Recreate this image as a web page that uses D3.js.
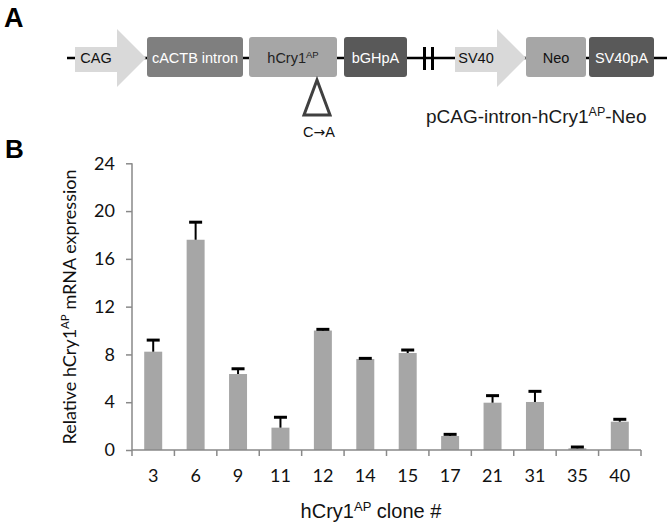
<!DOCTYPE html>
<html>
<head>
<meta charset="utf-8">
<script src="https://cdn.jsdelivr.net/npm/d3@7"></script>
<style>
  body { margin: 0; background: #fff; }
  svg { display: block; }
  .arial { font-family: "Liberation Sans", Arial, sans-serif; }
  .calib { font-family: Lato, "Open Sans", sans-serif; }
</style>
</head>
<body>
<div id="fig"></div>
<script>
// clone numbers and measured expression (mean, upper error)
var clones = ["3", "6", "9", "11", "12", "14", "15", "17", "21", "31", "35", "40"];
var expression = [8.23, 17.6, 6.36, 1.87, 10.0, 7.62, 8.12, 1.17, 3.96, 4.02, 0.14, 2.37];
var errorTop = [9.2, 19.07, 6.8, 2.74, 10.1, 7.67, 8.37, 1.31, 4.55, 4.91, 0.25, 2.57];
var yTicks = [0, 4, 8, 12, 16, 20, 24];

// construct elements (panel A)
var parts = ["CAG", "cACTB intron", "hCry1", "bGHpA", "SV40", "Neo", "SV40pA"];

var svgWidth = 672;
var svgHeight = 528;

var svg = d3.select("#fig")
  .append("svg")
  .attr("width", svgWidth)
  .attr("height", svgHeight);

// panel letters
svg.append("text").attr("class", "arial")
  .attr("x", 4).attr("y", 27)
  .style("font-size", "27px").style("font-weight", "bold")
  .text("A");
svg.append("text").attr("class", "arial")
  .attr("x", 5).attr("y", 158)
  .style("font-size", "26px").style("font-weight", "bold")
  .text("B");

// ---- panel A : plasmid map ----
var mapG = svg.append("g");
var lineY = 58;

mapG.append("line")
  .attr("x1", 67).attr("x2", 667)
  .attr("y1", lineY).attr("y2", lineY)
  .attr("stroke", "#000").attr("stroke-width", 2.5);

// element geometry: [x0, x1, kind, fill, text colour]
var layout = [
  [75, 146, "arrow", "#d9d9d9", "#111"],
  [147, 243, "box", "#7f7f7f", "#fff"],
  [249, 337, "box", "#a6a6a6", "#222"],
  [344, 407, "box", "#595959", "#fff"],
  [455, 526, "arrow", "#d9d9d9", "#111"],
  [526, 586, "box", "#a6a6a6", "#111"],
  [589, 654, "box", "#595959", "#fff"]
];

parts.forEach(function(name, i) {
  var L = layout[i];
  if (L[2] === "arrow") {
    var headX = L[1] - 29;
    var pts = [[L[0], 47], [headX, 47], [headX, 29], [L[1], lineY],
               [headX, 87], [headX, 72], [L[0], 72]];
    mapG.append("polygon")
      .attr("points", pts.map(p => p.join(",")).join(" "))
      .attr("fill", L[3]);
  } else {
    mapG.append("rect")
      .attr("x", L[0]).attr("y", 37)
      .attr("width", L[1] - L[0]).attr("height", 40)
      .attr("rx", 3)
      .attr("fill", L[3]);
  }
  var cx = L[2] === "arrow" ? (L[0] + L[1] - 29) / 2 : (L[0] + L[1]) / 2;
  var t = mapG.append("text").attr("class", "arial")
    .attr("x", cx).attr("y", 62.5)
    .attr("text-anchor", "middle")
    .attr("fill", L[4])
    .style("font-size", "14.5px")
    .text(name);
  if (name === "hCry1") {
    t.append("tspan").attr("dy", -5).style("font-size", "9.5px").text("AP");
  }
});

// break mark
[423, 431].forEach(function(bx) {
  mapG.append("rect")
    .attr("x", bx).attr("y", 47)
    .attr("width", 3).attr("height", 23)
    .attr("fill", "#000");
});

// mutation triangle
mapG.append("polygon")
  .attr("points", "317,80 304,115 330,115")
  .attr("fill", "#fff")
  .attr("stroke", "#404040")
  .attr("stroke-width", 3)
  .attr("stroke-linejoin", "miter");
var mut = mapG.append("text").attr("class", "arial")
  .attr("x", 319).attr("y", 137)
  .attr("text-anchor", "middle")
  .style("font-size", "14.5px")
  .attr("fill", "#111")
  .text("C");
mut.append("tspan").style("font-family", "DejaVu Sans").style("font-size", "14px").text("\u2192");
mut.append("tspan").text("A");

var title = mapG.append("text").attr("class", "arial")
  .attr("x", 426).attr("y", 123)
  .style("font-size", "19px")
  .attr("fill", "#1a1a1a")
  .text("pCAG-intron-hCry1");
title.append("tspan").attr("dy", -7).style("font-size", "12.5px").text("AP");
title.append("tspan").attr("dy", 7).text("-Neo");

// ---- panel B : bar chart ----
var chart = { left: 132, right: 641, top: 163.3, bottom: 450 };

var xScale = d3.scaleBand()
  .domain(clones)
  .range([chart.left, chart.right])
  .paddingInner(0.576)
  .paddingOuter(0.288);

var yScale = d3.scaleLinear()
  .domain([0, 24])
  .range([chart.bottom, chart.top]);

var axisColor = "#898989";

// bars
svg.append("g").selectAll("rect")
  .data(clones)
  .enter()
  .append("rect")
  .attr("x", d => xScale(d))
  .attr("width", xScale.bandwidth())
  .attr("y", (d, i) => yScale(expression[i]))
  .attr("height", (d, i) => chart.bottom - yScale(expression[i]))
  .attr("fill", "#a6a6a6");

// error bars
var errG = svg.append("g");
clones.forEach(function(c, i) {
  var cx = xScale(c) + xScale.bandwidth() / 2;
  errG.append("line")
    .attr("x1", cx).attr("x2", cx)
    .attr("y1", yScale(expression[i])).attr("y2", yScale(errorTop[i]))
    .attr("stroke", "#000").attr("stroke-width", 2);
  errG.append("line")
    .attr("x1", cx - 6.5).attr("x2", cx + 6.5)
    .attr("y1", yScale(errorTop[i])).attr("y2", yScale(errorTop[i]))
    .attr("stroke", "#000").attr("stroke-width", 3);
});

// y axis
var leftAxis = d3.axisLeft(yScale)
  .tickValues(yTicks)
  .tickSize(6)
  .tickPadding(11)
  .tickFormat(d3.format("d"));

var yAxis = svg.append("g")
  .attr("transform", `translate(${chart.left}, 0)`)
  .call(leftAxis);
yAxis.select(".domain").attr("stroke", axisColor).attr("stroke-width", 1.5)
  .attr("d", `M0,${chart.top}V${chart.bottom}`);
yAxis.selectAll(".tick line").attr("stroke", axisColor).attr("stroke-width", 1.5);
yAxis.selectAll(".tick text")
  .attr("class", "calib")
  .attr("fill", "#111")
  .style("font-size", "18px");

// x axis: labels centred, ticks at category boundaries
var bottomAxis = d3.axisBottom(xScale)
  .tickSize(0)
  .tickPadding(19);

var xAxis = svg.append("g")
  .attr("transform", `translate(0, ${chart.bottom})`)
  .call(bottomAxis);
xAxis.select(".domain").attr("stroke", axisColor).attr("stroke-width", 1.5)
  .attr("d", `M${chart.left},0H${chart.right}`);
xAxis.selectAll(".tick text")
  .attr("class", "calib")
  .attr("fill", "#111")
  .style("font-size", "18px");

var step = xScale.step();
var bounds = d3.range(clones.length + 1).map(k => chart.left + k * step);
xAxis.selectAll(".bound")
  .data(bounds)
  .enter()
  .append("line")
  .attr("class", "bound")
  .attr("x1", d => d).attr("x2", d => d)
  .attr("y1", 0).attr("y2", 6)
  .attr("stroke", axisColor).attr("stroke-width", 1.5);

// axis titles
var yTitle = svg.append("text").attr("class", "calib")
  .attr("transform", "translate(76, 307) rotate(-90)")
  .attr("text-anchor", "middle")
  .attr("fill", "#111")
  .style("font-size", "18px")
  .text("Relative hCry1");
yTitle.append("tspan").attr("dy", -7).style("font-size", "11.5px").text("AP");
yTitle.append("tspan").attr("dy", 7).text(" mRNA expression");

var xTitle = svg.append("text").attr("class", "arial")
  .attr("x", 371).attr("y", 518)
  .attr("text-anchor", "middle")
  .attr("fill", "#111")
  .style("font-size", "20px")
  .text("hCry1");
xTitle.append("tspan").attr("dy", -7).style("font-size", "13px").text("AP");
xTitle.append("tspan").attr("dy", 7).text(" clone #");
</script>
</body>
</html>
